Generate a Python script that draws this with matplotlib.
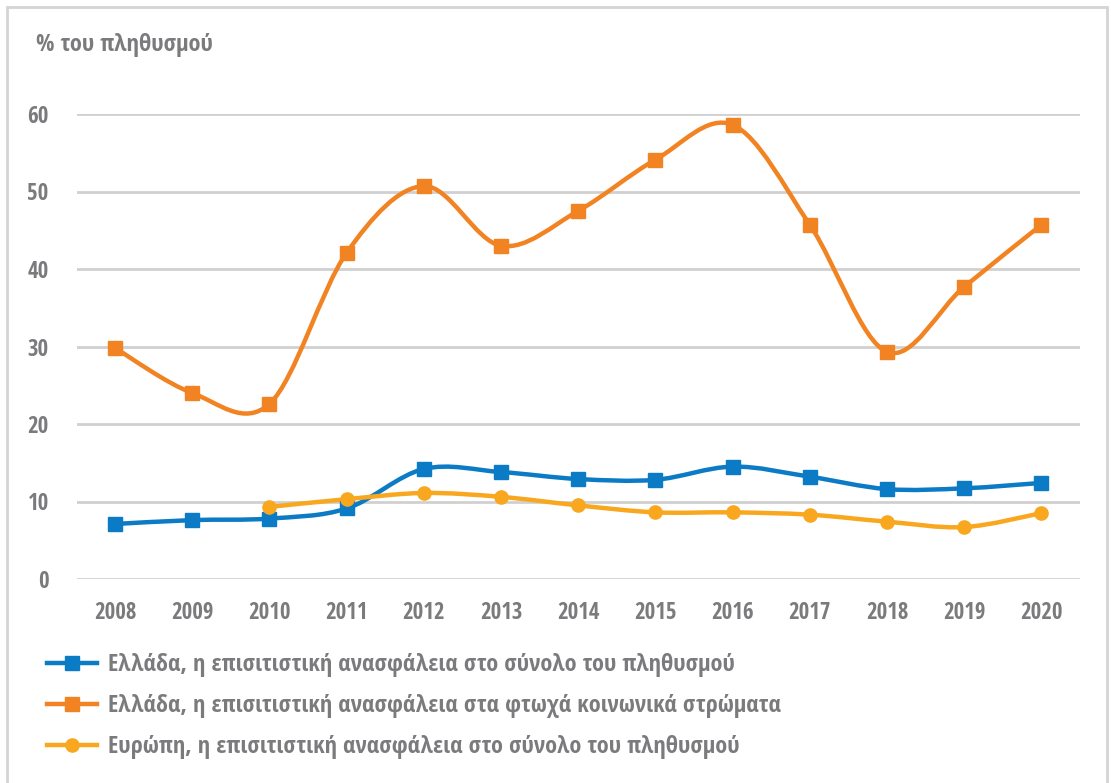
import numpy as np
import matplotlib.pyplot as plt
from matplotlib.path import Path
from matplotlib.patches import PathPatch, Rectangle
from matplotlib.lines import Line2D

plt.rcParams['font.family'] = ['Open Sans Condensed', 'DejaVu Sans']
plt.rcParams['font.weight'] = 'bold'

years = [2008, 2009, 2010, 2011, 2012, 2013, 2014, 2015, 2016, 2017, 2018, 2019, 2020]
greece_total = [7.1, 7.6, 7.8, 9.1, 14.2, 13.8, 12.9, 12.8, 14.5, 13.2, 11.6, 11.7, 12.4]
greece_poor = [29.8, 24.0, 22.6, 42.1, 50.7, 43.0, 47.5, 54.1, 58.6, 45.7, 29.3, 37.7, 45.7]
europe_years = [2010, 2011, 2012, 2013, 2014, 2015, 2016, 2017, 2018, 2019, 2020]
europe_total = [9.3, 10.3, 11.1, 10.6, 9.5, 8.6, 8.6, 8.3, 7.4, 6.7, 8.5]

labels = ["Ελλάδα, η επισιτιστική ανασφάλεια στο σύνολο του πληθυσμού",
          "Ελλάδα, η επισιτιστική ανασφάλεια στα φτωχά κοινωνικά στρώματα",
          "Ευρώπη, η επισιτιστική ανασφάλεια στο σύνολο του πληθυσμού"]
colors = ["#0a7bc4", "#f28322", "#f9a71f"]
markers = ["s", "s", "o"]
msizes = [9.5, 9.5, 9.5]
grey = "#7b7b7e"


def smooth_path(x, y):
    # catmull-rom style bezier, like excel smoothed lines
    p = np.column_stack([x, y]).astype(float)
    n = len(p)
    verts = [p[0]]
    codes = [Path.MOVETO]
    for i in range(n - 1):
        p0 = p[i - 1] if i > 0 else p[i]
        p1 = p[i]
        p2 = p[i + 1]
        p3 = p[i + 2] if i + 2 < n else p[i + 1]
        c1 = p1 + (p2 - p0) / 6
        c2 = p2 - (p3 - p1) / 6
        verts += [c1, c2, p2]
        codes += [Path.CURVE4] * 3
    return Path(verts, codes)


fig = plt.figure(figsize=(11.11, 7.83), dpi=100)
fig.patches.append(Rectangle((7 / 1111, -0.05), 1100 / 1111, 1 - 7 / 783 + 0.05,
                             transform=fig.transFigure, fill=False,
                             edgecolor="#d4d4d4", lw=2))
ax = fig.add_axes([76.5 / 1111, 1 - 579 / 783, (1080 - 76.5) / 1111, (579 - 114) / 783])

xi = np.arange(len(years))
xe = np.array([years.index(y) for y in europe_years])
series = [(xi, greece_total), (xi, greece_poor), (xe, europe_total)]
order = [1, 0, 2]
for k in order:
    x, y = series[k]
    ax.add_patch(PathPatch(smooth_path(x, y), fill=False, edgecolor=colors[k],
                           lw=3.2, capstyle='round', joinstyle='round', clip_on=False, zorder=3))
    ax.plot(x, y, linestyle='none', marker=markers[k], color=colors[k],
            markersize=msizes[k], clip_on=False, zorder=4)

ax.set_xlim(-0.5, len(years) - 0.5)
ax.set_ylim(0, 60)
ax.set_yticks(range(0, 61, 10))
ax.set_xticks(xi)
ax.set_xticklabels([str(y) for y in years])
ax.grid(axis='y', color="#d0d0d0", lw=2)
ax.set_axisbelow(True)
for s in ax.spines.values():
    s.set_visible(False)
ax.tick_params(length=0, colors=grey, labelsize=16.5)
ax.tick_params(axis='y', pad=20)
ax.tick_params(axis='x', pad=16)

fig.text(36 / 1111, 1 - 45 / 783, "% του πληθυσμού", color=grey, fontsize=17.6,
         va='center', ha='left')

handles = [Line2D([], [], color=colors[k], lw=3.2, marker=markers[k], markersize=msizes[k])
           for k in range(3)]
fig.legend(handles, labels, loc='upper left', bbox_to_anchor=(35 / 1111, 1 - 641 / 783),
           frameon=False, fontsize=17.5, labelcolor=grey, handlelength=2.05,
           labelspacing=0.7, handletextpad=0.45, borderpad=0)

fig.savefig("out.png", dpi=100)
